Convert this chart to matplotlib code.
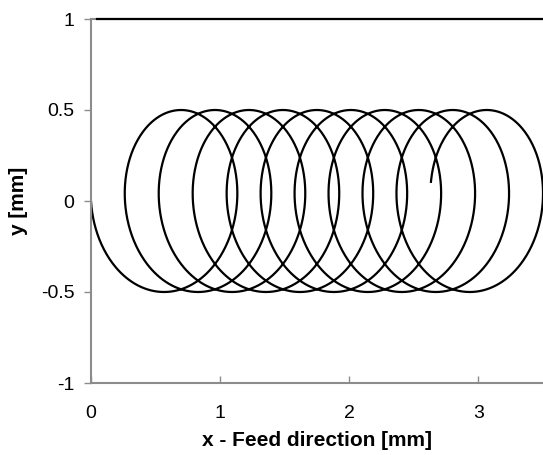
import numpy as np
import matplotlib
matplotlib.use('Agg')
import matplotlib.pyplot as plt

plt.rcParams['font.family'] = ['Liberation Sans', 'DejaVu Sans']

# tool path
radius = 0.5          # mm, loop radius
feed = 0.263          # mm per revolution
turns = 10            # revolutions
end_phase = 0.2       # rad short of the last full turn
boundary_x = [0.05, 3.6]
boundary_y = [1.0, 1.0]

x_ticks = [0, 1, 2, 3]
y_ticks = [-1, -0.5, 0, 0.5, 1]
y_tick_labels = ['-1', '-0.5', '0', '0.5', '1']

t = np.linspace(0, 2 * np.pi * turns - end_phase, 4000)
path_x = radius - radius * np.cos(t) + feed * t / (2 * np.pi)
path_y = -radius * np.sin(t)

fig = plt.figure(figsize=(5.43, 4.55), dpi=100)
ax = fig.add_axes([91 / 543, 1 - 383 / 455, 1 - 91 / 543, (383 - 19) / 455])

ax.plot(path_x, path_y, color='black', lw=1.6, solid_capstyle='butt')
ax.plot(boundary_x, boundary_y, color='black', lw=1.6, clip_on=False, zorder=5)

ax.set_xlim(0, 3.5)
ax.set_ylim(-1, 1)
ax.set_xticks(x_ticks)
ax.set_yticks(y_ticks)
ax.set_yticklabels(y_tick_labels)

for side in ['left', 'bottom', 'top']:
    ax.spines[side].set_color('#8c8c8c')
    ax.spines[side].set_linewidth(1.5)
ax.spines['right'].set_visible(False)

ax.tick_params(axis='y', direction='out', length=5, width=1, color='#8c8c8c',
               labelsize=14, pad=7)
ax.tick_params(axis='x', direction='in', length=5, width=1, color='#8c8c8c',
               labelsize=14, pad=16)

ax.set_xlabel('x - Feed direction [mm]', fontsize=15, fontweight='bold', labelpad=6)
ax.set_ylabel('y [mm]', fontsize=15, fontweight='bold', labelpad=9)

fig.savefig('out.png', dpi=100)
